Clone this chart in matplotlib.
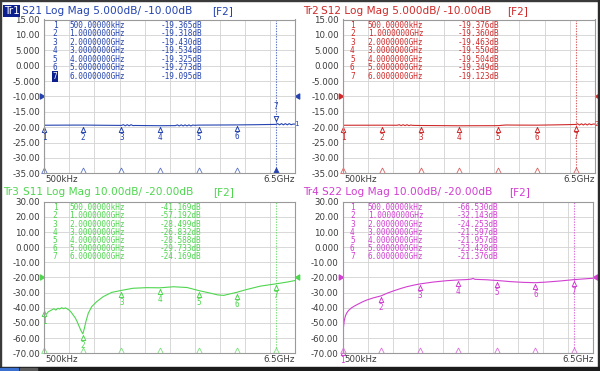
import numpy as np
import matplotlib
matplotlib.use("Agg")
import matplotlib.pyplot as plt
import matplotlib.transforms as mtransforms
from matplotlib.patches import Rectangle

# marker table, same stimulus on all four traces (GHz)
marker_freq = [0.0005, 1.0, 2.0, 3.0, 4.0, 5.0, 6.0]
marker_freq_text = ["500.00000kHz", "1.0000000GHz", "2.0000000GHz", "3.0000000GHz",
                    "4.0000000GHz", "5.0000000GHz", "6.0000000GHz"]
s21_markers = [-19.365, -19.318, -19.430, -19.534, -19.325, -19.273, -19.095]
s12_markers = [-19.376, -19.360, -19.463, -19.550, -19.504, -19.349, -19.123]
s11_markers = [-41.169, -57.192, -28.499, -26.832, -28.588, -29.733, -24.169]
s22_markers = [-66.530, -32.143, -24.253, -21.597, -21.957, -23.428, -21.376]

# traces (GHz, dB)
f_s21 = [0.0005, 0.5, 1.0, 1.5, 2.0, 2.05, 2.1, 2.15, 2.2, 2.25,
         2.3, 2.35, 2.7, 3.0, 3.4, 3.45, 3.5, 3.55, 3.6, 3.65,
         3.7, 3.75, 3.8, 3.85, 3.9, 4.0, 4.5, 5.0, 5.5, 6.0,
         6.05, 6.1, 6.15, 6.2, 6.25, 6.3, 6.35, 6.4, 6.45, 6.5]
s21 = [-19.37, -19.34, -19.32, -19.38, -19.43, -19.2, -19.55, -19.2, -19.55, -19.2,
       -19.5, -19.45, -19.5, -19.53, -19.5, -19.25, -19.6, -19.25, -19.6, -19.25,
       -19.6, -19.25, -19.6, -19.3, -19.4, -19.33, -19.3, -19.27, -19.2, -19.1,
       -18.85, -19.25, -18.85, -19.25, -18.85, -19.25, -18.85, -19.2, -19.0, -19.0]

f_s12 = [0.0005, 0.5, 1.0, 1.4, 1.45, 1.5, 1.55, 1.6, 1.65, 1.7,
         1.75, 1.8, 2.0, 2.5, 3.0, 3.5, 3.9, 4.0, 4.1, 4.2,
         4.5, 5.0, 5.5, 5.9, 6.0, 6.05, 6.1, 6.15, 6.2, 6.25,
         6.3, 6.35, 6.4, 6.45, 6.5]
s12 = [-19.38, -19.37, -19.36, -19.38, -19.2, -19.5, -19.2, -19.5, -19.2, -19.5,
       -19.3, -19.42, -19.46, -19.5, -19.55, -19.53, -19.52, -19.5, -19.4, -19.3,
       -19.33, -19.35, -19.25, -19.15, -19.12, -18.9, -19.3, -18.9, -19.3, -18.9,
       -19.3, -18.9, -19.2, -19.0, -19.0]

f_s11 = [0.0005, 0.03, 0.06, 0.1, 0.15, 0.2, 0.25, 0.3, 0.35, 0.4,
         0.45, 0.5, 0.55, 0.6, 0.65, 0.7, 0.75, 0.8, 0.85, 0.9,
         0.95, 1.0, 1.04, 1.08, 1.14, 1.23, 1.36, 1.53, 1.75, 2.0,
         2.3, 2.65, 3.0, 3.35, 3.7, 4.0, 4.25, 4.5, 4.65, 4.8,
         5.0, 5.25, 5.6, 6.0, 6.3, 6.5]
s11 = [-41.2, -44.5, -44.0, -42.7, -42.0, -41.3, -40.6, -41.5, -40.3, -40.8,
       -39.9, -40.6, -40.0, -40.8, -41.6, -43.0, -44.8, -46.5, -49.0, -52.0,
       -55.0, -57.2, -53.5, -49.0, -43.6, -39.2, -35.9, -32.6, -29.8, -28.5,
       -27.1, -26.7, -26.8, -26.1, -26.6, -28.6, -30.0, -31.5, -31.8, -30.9,
       -29.7, -27.9, -25.7, -24.2, -23.0, -22.0]

f_s22 = [0.0005, 0.01, 0.02, 0.04, 0.07, 0.1, 0.15, 0.23, 0.32, 0.41,
         0.52, 0.62, 0.8, 1.0, 1.15, 1.31, 1.5, 1.66, 1.85, 2.0,
         2.35, 2.7, 3.0, 3.2, 3.33, 3.38, 3.43, 3.73, 4.0, 4.34,
         4.68, 5.0, 5.29, 5.64, 6.0, 6.33, 6.5]
s22 = [-66.5, -58.0, -53.0, -48.5, -45.5, -43.6, -41.8, -40.0, -38.6, -37.4,
       -36.0, -34.9, -33.4, -32.1, -30.4, -28.9, -27.3, -26.1, -25.0, -24.25,
       -23.0, -22.1, -21.6, -21.4, -21.1, -20.6, -21.2, -21.5, -21.96, -22.7,
       -23.2, -23.43, -23.0, -22.3, -21.4, -20.8, -20.5]

BLUE = '#2443b0'
RED = '#cf2a2a'
GREEN = '#4fd64f'
MAGENTA = '#d13fd1'

W, H = 600, 371
fig = plt.figure(figsize=(6, 3.71), dpi=100)
fig.patch.set_facecolor('white')

# custom marker shapes (tip sits on the origin)
TRI_UP = [(0, 0), (-0.45, -1), (0.45, -1), (0, 0)]
TRI_DOWN = [(0, 0), (-0.45, 1), (0.45, 1), (0, 0)]
TRI_AXIS = [(0, 1), (-0.5, 0), (0.5, 0), (0, 1)]
TRI_RIGHT = [(0, 0), (-1, 0.6), (-1, -0.6), (0, 0)]
TRI_LEFT = [(0, 0), (1, 0.6), (1, -0.6), (0, 0)]

PT = 0.72  # points per pixel at 100 dpi


def ftext(x, y, s, **kw):
    return fig.text(x / W, 1 - y / H, s, **kw)


def fmt_db(v):
    if abs(v) < 10:
        return f"{v:.3f}"
    return f"{v:.2f}"


def draw_panel(rect, name, title, top, step, ref, freq, vals, mk_vals, color,
               title_pos, table_pos, active=False, end_label=None):
    x0, y0, x1, y1 = rect
    ax = fig.add_axes([x0 / W, 1 - y1 / H, (x1 - x0) / W, (y1 - y0) / H])
    bottom = top - 10 * step
    ax.set_xlim(0.0005, 6.5)
    ax.set_ylim(bottom, top)
    yt = np.linspace(bottom, top, 11)
    ax.set_yticks(yt)
    ax.set_yticklabels([fmt_db(v) for v in yt])
    ax.set_xticks(np.linspace(0.0005, 6.5, 11))
    ax.set_xticklabels([])
    ax.tick_params(length=0, labelsize=6.2, labelcolor='#3a3a3a', pad=3)
    ax.grid(True, color='#d2d2d2', lw=0.6)
    for sp in ax.spines.values():
        sp.set_color('#9a9a9a')
        sp.set_linewidth(0.8)

    ax.annotate('500kHz', xy=(0, 0), xycoords='axes fraction', xytext=(1, -6.5 * PT),
                textcoords='offset points', ha='left', va='center', fontsize=6.2, color='#3a3a3a')
    ax.annotate('6.5GHz', xy=(1, 0), xycoords='axes fraction', xytext=(0, -6.5 * PT),
                textcoords='offset points', ha='right', va='center', fontsize=6.2, color='#3a3a3a')

    # marker stimulus lines
    for f in (marker_freq[0], marker_freq[-1]):
        ax.axvline(f, color=color, lw=0.8, ls=(0, (1.2, 1.2)), alpha=0.75)

    ax.plot(freq, vals, color=color, lw=0.8)

    for i, (f, v) in enumerate(zip(marker_freq, mk_vals)):
        if active and i == len(mk_vals) - 1:
            tr = mtransforms.offset_copy(ax.transData, fig=fig, x=0, y=3, units='dots')
            ax.plot(f, v, marker=TRI_DOWN, ms=7.2, mfc='white', mec=color, mew=0.7,
                    transform=tr, clip_on=False)
            ax.annotate(str(i + 1), xy=(f, v), xytext=(0, 18 * PT), textcoords='offset points',
                        ha='center', va='center', fontsize=5.5, color=color,
                        family='DejaVu Sans Mono')
        else:
            tr = mtransforms.offset_copy(ax.transData, fig=fig, x=0, y=-1.5, units='dots')
            ax.plot(f, v, marker=TRI_UP, ms=7.2, mfc='white', mec=color, mew=0.7,
                    transform=tr, clip_on=False)
            ax.annotate(str(i + 1), xy=(f, v), xytext=(0, -12 * PT), textcoords='offset points',
                        ha='center', va='center', fontsize=5.5, color=color,
                        family='DejaVu Sans Mono')
        filled = active and i == len(mk_vals) - 1
        ax.plot(f, bottom, marker=TRI_AXIS, ms=8, mfc=color if filled else 'white',
                mec=color, mew=0.6, alpha=1 if filled else 0.75, clip_on=False)

    # reference level arrows
    ax.plot(0, ref, marker=TRI_RIGHT, ms=6, color=color, transform=ax.get_yaxis_transform(),
            clip_on=False)
    ax.plot(1, ref, marker=TRI_LEFT, ms=6, color=color, transform=ax.get_yaxis_transform(),
            clip_on=False)
    if end_label:
        ax.annotate(end_label, xy=(1, vals[-1]), xycoords=('axes fraction', 'data'),
                    xytext=(-0.5 * PT, 0), textcoords='offset points', ha='left', va='center',
                    fontsize=5.2, color=color, family='DejaVu Sans Mono')

    # title line
    tr_x, title_x, f2_x, title_y = title_pos
    if active:
        ftext(tr_x, title_y, name, fontsize=7.6, color='white', va='center', ha='left',
              bbox=dict(facecolor='#0b1f8f', edgecolor='none', pad=0.6))
    else:
        ftext(tr_x, title_y, name, fontsize=7.6, color=color, va='center', ha='left')
    ftext(title_x, title_y, title, fontsize=7.6, color=color, va='center', ha='left')
    ftext(f2_x, title_y, '[F2]', fontsize=7.6, color=color, va='center', ha='left')

    # marker table
    num_x, freq_x, val_x, row_y0, row_dy = table_pos
    for i in range(len(mk_vals)):
        y = row_y0 + i * row_dy
        if active and i == len(mk_vals) - 1:
            ftext(num_x, y, str(i + 1), fontsize=5.6, color='white', ha='center', va='center',
                  family='DejaVu Sans Mono',
                  bbox=dict(facecolor='#0b1f8f', edgecolor='none', pad=0.5))
        else:
            ftext(num_x, y, str(i + 1), fontsize=5.6, color=color, ha='center', va='center',
                  family='DejaVu Sans Mono')
        ftext(freq_x, y, marker_freq_text[i], fontsize=5.6, color=color, ha='left',
              va='center', family='DejaVu Sans Mono')
        ftext(val_x, y, f"{mk_vals[i]:.3f}dB", fontsize=5.6, color=color, ha='right',
              va='center', family='DejaVu Sans Mono')
    return ax


draw_panel((44.3, 19.5, 295, 173.3), 'Tr1', 'S21 Log Mag 5.000dB/ -10.00dB', 15, 5, -10,
           f_s21, s21, s21_markers, BLUE, (3.8, 21.7, 212, 11.2), (55, 69.3, 202, 25, 8.6),
           active=True, end_label='1')
draw_panel((343, 19.5, 595, 173.3), 'Tr2', 'S12 Log Mag 5.000dB/ -10.00dB', 15, 5, -10,
           f_s12, s12, s12_markers, RED, (303.3, 321, 507.3, 11.2), (352.3, 367.7, 499.3, 25, 8.6),
           end_label='2')
draw_panel((44.3, 201.7, 295, 353.3), 'Tr3', 'S11 Log Mag 10.00dB/ -20.00dB', 30, 10, -20,
           f_s11, s11, s11_markers, GREEN, (3.3, 22.7, 212.7, 192),
           (55, 69.3, 201, 207.7, 8.17))
draw_panel((342.7, 201.7, 593.3, 353.3), 'Tr4', 'S22 Log Mag 10.00dB/ -20.00dB', 30, 10, -20,
           f_s22, s22, s22_markers, MAGENTA, (302.7, 321.7, 509.3, 192),
           (352.3, 367.7, 498.3, 207.7, 8.17))

# window frame and task bar strip
fig.add_artist(Rectangle((0, 0), 1 / W, 1, transform=fig.transFigure, color='#3a3a3a'))
fig.add_artist(Rectangle((0, 1 - 1 / H), 1, 1 / H, transform=fig.transFigure, color='#3a3a3a'))
fig.add_artist(Rectangle((1 - 2.5 / W, 0), 2.5 / W, 1, transform=fig.transFigure, color='#2a2a2a'))
fig.add_artist(Rectangle((0, 0), 1, 4 / H, transform=fig.transFigure, color='#1c1c1c'))
fig.add_artist(Rectangle((0, 0), 18 / W, 3 / H, transform=fig.transFigure, color='#3b6fd0'))
fig.add_artist(Rectangle((20 / W, 0), 17 / W, 3 / H, transform=fig.transFigure, color='#5a5a5a'))

fig.savefig('out.png', dpi=100)
